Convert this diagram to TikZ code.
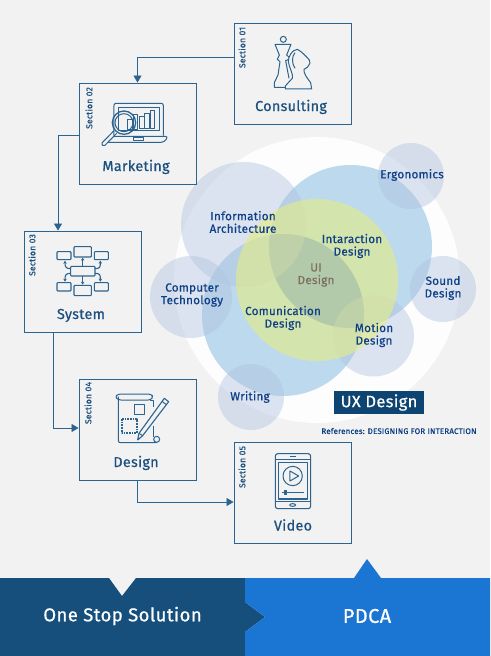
\documentclass[tikz,border=0pt]{standalone}
\usepackage{fontspec}
\setmainfont{Fira Sans}[LetterSpace=2, RawFeature={embolden=0.6}]
\usetikzlibrary{arrows.meta}
\definecolor{pagecol}{HTML}{F2F2F2}
\definecolor{linecol}{HTML}{2C648F}
\definecolor{textcol}{HTML}{1D507E}
\definecolor{bubcol}{HTML}{0F3F86}
\definecolor{softbub}{RGB}{176,196,223}
\definecolor{bluebub}{RGB}{95,165,215}
\definecolor{lenscol}{RGB}{60,110,230}
\definecolor{greenbub}{RGB}{231,237,125}
\definecolor{uxcol}{HTML}{0D4471}
\definecolor{uicol}{HTML}{7C6F5F}
\definecolor{darkband}{HTML}{164E7C}
\definecolor{lightband}{HTML}{1B75D3}
\tikzset{
  flowarrow/.style={-{Triangle[length=7pt,width=8pt]}, line width=0.8pt, draw=linecol},
  sectionbox/.style={draw=linecol, line width=0.9pt, minimum width=117pt, minimum height=101pt, inner sep=0pt},
  sectionlabel/.style={rotate=90, text=textcol, font=\fontsize{8.6}{9}\selectfont, inner sep=0pt},
  boxtitle/.style={anchor=base, text=textcol, font=\fontsize{14.4}{16}\selectfont, inner sep=0pt},
  bublabel/.style={text=bubcol, align=center, font=\fontsize{11.7}{12.6}\selectfont, inner sep=0pt},
  bandlabel/.style={text=white, inner sep=0pt},
  softcirc/.style={fill=softbub, fill opacity=0.45},
  bluecirc/.style={fill=bluebub, fill opacity=0.4},
  icon/.style={x=0.3333pt, y=-0.3333pt, draw=linecol, line width=1pt, line join=round}
}
\begin{document}
\begin{tikzpicture}[x=1pt, y=-1pt]
    \fill[pagecol] (0,0) rectangle (490,656);
    \useasboundingbox (0,0) rectangle (490,656);

    \fill[white, fill opacity=0.85] (317,280) circle (143);
    \fill[bluecirc] (350.5,246.5) circle (81.5);
    \fill[bluecirc] (283,315) circle (81);
    \begin{scope}
      \clip (350.5,246.5) circle (81.5);
      \fill[lenscol, fill opacity=0.45] (283,315) circle (81);
    \end{scope}
    \fill[softcirc] (243.5,224.5) circle (62.5);
    \fill[softcirc] (411,176) circle (33);
    \fill[softcirc] (443,289) circle (33);
    \fill[softcirc] (373.5,336) circle (40.5);
    \fill[softcirc] (191,297) circle (41);
    \fill[softcirc] (251,397) circle (33);
    \fill[greenbub, fill opacity=0.57] (317,280) circle (81);

    \node[sectionbox] (consulting) at (292.5,73.5) {};
    \node[sectionbox] (marketing) at (137.5,133.5) {};
    \node[sectionbox] (system) at (82.5,281.5) {};
    \node[sectionbox] (design) at (137.5,429.5) {};
    \node[sectionbox] (video) at (292.5,492.5) {};

    \draw[flowarrow] ([yshift=16.5pt]consulting.west) -| (marketing.north);
    \draw[flowarrow] ([yshift=-1.5pt]marketing.west) -| ([xshift=-24.5pt]system.north);
    \draw[flowarrow] ([xshift=-29.5pt]system.south) |- ([yshift=1.5pt]design.west);
    \draw[flowarrow] (design.south) |- ([yshift=-9.5pt]video.west);

    \node[sectionlabel] (sec1) at (242,47.5) {Section 01};
    \node[sectionlabel] (sec2) at (89,108) {Section 02};
    \node[sectionlabel] (sec3) at (32,255) {Section 03};
    \node[sectionlabel] (sec4) at (88,403) {Section 04};
    \node[sectionlabel] (sec5) at (242,467) {Section 05};

    \node[boxtitle] (title1) at (291,111) {Consulting};
    \node[boxtitle] (title2) at (136,171) {Marketing};
    \node[boxtitle] (title3) at (81,319) {System};
    \node[boxtitle] (title4) at (136,467) {Design};
    \node[boxtitle] (title5) at (293,530.5) {Video};

    \begin{scope}[shift={(220,10)}, icon]
      \draw (190,88) circle (9);
      \draw (165,103) -- (213,103) -- (200,135) -- (212,146) -- (197,152) -- (207,205);
      \draw (165,103) -- (178,135) -- (172,148) -- (180,155) -- (174,195) -- (163,218) -- (163,232) -- (197,232);
      \draw[fill=pagecol] (196,237) -- (275,237) -- (272,218) .. controls (262,205) and (250,190) .. (252,178) -- (262,172) -- (270,160) -- (268,150) .. controls (255,135) and (245,125) .. (232,118) .. controls (215,120) and (205,140) .. (205,155) .. controls (208,175) and (220,190) .. (217,205) -- (205,218) -- (196,228) -- cycle;
      \draw (225,128) .. controls (215,140) and (215,160) .. (225,175);
    \end{scope}

    \begin{scope}[shift={(50,70)}, icon]
      \draw[rounded corners=2pt] (192,197) -- (192,100) -- (340,100) -- (340,197);
      \draw (205,113) rectangle (328,182);
      \draw[rounded corners=3pt] (190,199) -- (355,199) -- (342,217) -- (172,217);
      \draw (250,203) rectangle (280,213);
      \draw (232,150) rectangle (247,178);
      \draw (250,133) rectangle (263,178);
      \draw (268,140) rectangle (283,175);
      \draw (285,130) rectangle (298,175);
      \draw (302,122) rectangle (315,175);
      \draw[line width=1.3pt] (222,158) circle (35);
      \draw (222,158) circle (27);
      \draw[rounded corners=1.5pt] (200,190) -- (162,229) -- (153,222) -- (192,182);
    \end{scope}

    \begin{scope}[shift={(15,220)}, icon, rounded corners=0.8pt, -{Stealth[length=3pt,width=3.5pt]}, line width=1.1pt]
      \draw[-] (167,139) rectangle (240,168);
      \draw[-] (177,80) rectangle (229,111);
      \draw[-] (177,196) rectangle (229,227);
      \draw[-] (126,95) rectangle (168,119);
      \draw[-] (238,95) rectangle (280,119);
      \draw[-] (126,188) rectangle (168,213);
      \draw[-] (238,188) rectangle (280,213);
      \draw (203,138) -- (203,113);
      \draw (203,168) -- (203,194);
      \draw (167,146) .. controls (152,146) and (150,140) .. (150,122);
      \draw (167,160) .. controls (152,160) and (150,165) .. (150,185);
      \draw (240,146) .. controls (256,146) and (256,140) .. (256,122);
      \draw (240,160) .. controls (256,160) and (256,165) .. (256,185);
    \end{scope}

    \begin{scope}[shift={(50,370)}, icon]
      \draw[rounded corners=2.5pt] (205,72) -- (302,72) -- (310,80) -- (302,90) -- (205,90) -- (195,80) -- cycle;
      \draw[rounded corners=2pt] (205,80) -- (205,218) -- (320,218);
      \draw (320,208) circle (9);
      \draw (300,90) -- (312,90) -- (312,112);
      \draw (312,168) -- (312,200);
      \draw (253,103) rectangle (285,133);
      \draw[line width=1.7pt, densely dotted] (215,147) rectangle (260,190);
      \draw[fill=pagecol, line width=1.1pt] (343,85) -- (356,95) -- (278,197) -- (263,210) -- (267,190) -- cycle;
      \draw (267,190) -- (278,197);
      \draw (336,94) -- (349,104);
    \end{scope}

    \begin{scope}[shift={(225,435)}, icon]
      \draw[rounded corners=2.5pt, line width=1.1pt] (151,56) rectangle (257,221);
      \draw (151,72) -- (257,72);
      \draw (151,200) -- (257,200);
      \draw[line width=1.1pt] (160,82) rectangle (247,192);
      \draw (195,63) -- (213,63);
      \draw (203,210) ellipse (9 and 4);
      \draw (203,123) circle (29);
      \draw (195,108) -- (221,123) -- (195,138) -- cycle;
      \draw (171,172) -- (237,172);
      \draw[fill=linecol] (178,166) rectangle (186,178);
    \end{scope}

    \node[bublabel] (ergo) at (412,175) {Ergonomics};
    \node[bublabel] (info) at (243,222) {Information\\Architecture};
    \node[bublabel] (inter) at (352,246) {Intaraction\\Design};
    \node[bublabel, text=uicol] (ui) at (316,275) {UI\\Design};
    \node[bublabel] (comu) at (283,318) {Comunication\\Design};
    \node[bublabel] (comp) at (192,295) {Computer\\Technology};
    \node[bublabel] (sound) at (443,288) {Sound\\Design};
    \node[bublabel] (motion) at (374,335) {Motion\\Design};
    \node[bublabel] (writ) at (250,397) {Writing};

    \node[fill=uxcol, text=white, minimum width=90pt, minimum height=23pt, inner sep=0pt, font=\fontsize{16.5}{17}\selectfont] (ux) at (379,402.5) {UX Design};
    \node[text=bubcol, inner sep=0pt, font=\fontsize{8}{9}\selectfont] (refs) at (399,431) {References: DESIGNING FOR INTERACTION};

    \fill[darkband] (0,578) -- (109,578) -- (122,596) -- (136,578) -- (245,578) -- (245,602) -- (265,617) -- (245,632) -- (245,656) -- (0,656) -- cycle;
    \fill[lightband] (245,578) -- (354,578) -- (367,559) -- (381,578) -- (490,578) -- (490,656) -- (245,656) -- (245,632) -- (265,617) -- (245,602) -- cycle;
    \node[bandlabel, font=\fontsize{18.6}{20}\selectfont] (stop) at (122.5,616) {One Stop Solution};
    \node[bandlabel, font=\fontsize{20}{20}\selectfont] (pdca) at (367,616) {PDCA};
  \end{tikzpicture}
\end{document}
